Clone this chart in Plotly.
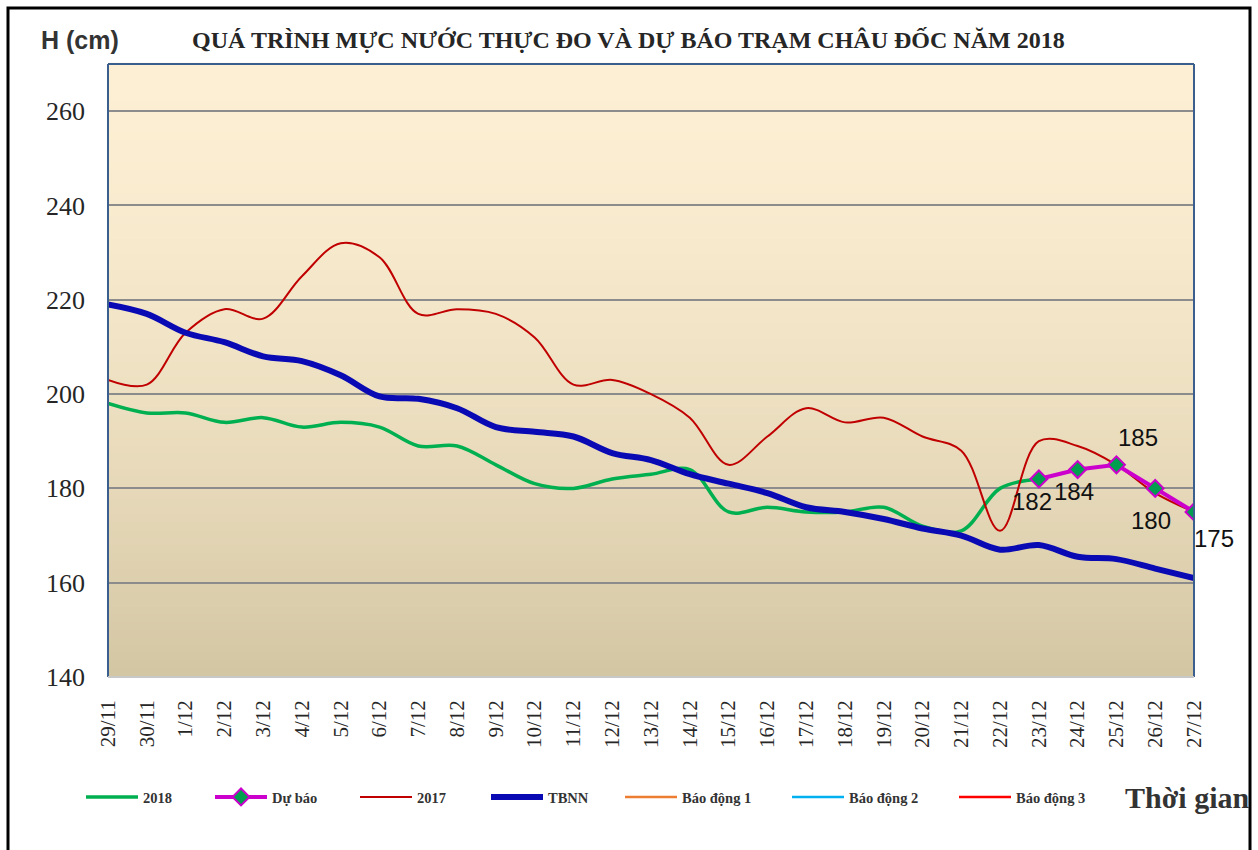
import plotly.graph_objects as go

# ---------------- data ----------------
dates = ["29/11", "30/11", "1/12", "2/12", "3/12", "4/12", "5/12", "6/12", "7/12",
         "8/12", "9/12", "10/12", "11/12", "12/12", "13/12", "14/12", "15/12", "16/12",
         "17/12", "18/12", "19/12", "20/12", "21/12", "22/12", "23/12", "24/12",
         "25/12", "26/12", "27/12"]

h_2018 = [198, 196, 196, 194, 195, 193, 194, 193, 189, 189, 185, 181, 180, 182, 183,
          184, 175, 176, 175, 175, 176, 172, 171, 180, 182]

forecast_dates = ["23/12", "24/12", "25/12", "26/12", "27/12"]
h_forecast = [182, 184, 185, 180, 175]

h_2017 = [203, 202, 213, 218, 216, 225, 232, 229, 217, 218, 217, 212, 202, 203, 200,
          195, 185, 191, 197, 194, 195, 191, 188, 171, 190, 189, 185, 179, 175]

h_tbnn = [219, 217, 213, 211, 208, 207, 204, 199.5, 199, 197, 193, 192, 191, 187.5, 186,
          183, 181, 179, 176, 175, 173.5, 171.5, 170, 167, 168, 165.5, 165, 163, 161]

# alarm levels for Chau Doc (cm), above the visible range
bao_dong_1 = [350] * len(dates)
bao_dong_2 = [400] * len(dates)
bao_dong_3 = [450] * len(dates)

y_ticks = [140, 160, 180, 200, 220, 240, 260]

# label offsets (px) for forecast data labels
label_shift = [(-7, -23), (-4, -22), (22, 27), (-4, -32), (20, -27)]

# ---------------- layout geometry ----------------
W, H = 1258, 850
ML, MR, MT, MB = 108, 64, 64, 173
PW, PH = W - ML - MR, H - MT - MB

def px_x(px):
    return (px - ML) / PW

def px_y(py):
    return (H - MB - py) / PH

SERIF = "Liberation Serif"
SANS = "Liberation Sans"

fig = go.Figure()

legend_names = ["legend", "legend2", "legend3", "legend4", "legend5", "legend6", "legend7"]

fig.add_trace(go.Scatter(
    x=dates[:len(h_2018)], y=h_2018, name="2018", mode="lines",
    line=dict(color="#00B050", width=3.5, shape="spline", smoothing=1),
    legend="legend"))

fig.add_trace(go.Scatter(
    x=dates, y=h_2017, name="2017", mode="lines",
    line=dict(color="#C00000", width=2, shape="spline", smoothing=1),
    legend="legend3"))

fig.add_trace(go.Scatter(
    x=dates, y=h_tbnn, name="TBNN", mode="lines",
    line=dict(color="#0A0AB4", width=6, shape="spline", smoothing=1),
    legend="legend4"))

fig.add_trace(go.Scatter(
    x=forecast_dates, y=h_forecast, name="Dự báo", mode="lines+markers",
    line=dict(color="#CC00CC", width=4),
    marker=dict(symbol="diamond", size=13, color="#009E4F",
                line=dict(color="#CC00CC", width=2)),
    legend="legend2"))

for nm, vals, col, lg in [("Báo động 1", bao_dong_1, "#ED7D31", "legend5"),
                          ("Báo động 2", bao_dong_2, "#00B0F0", "legend6"),
                          ("Báo động 3", bao_dong_3, "#FF0000", "legend7")]:
    fig.add_trace(go.Scatter(x=dates, y=vals, name=nm, mode="lines",
                             line=dict(color=col, width=2.5), legend=lg))

# data labels for forecast
for d, v, (dx, dy) in zip(forecast_dates, h_forecast, label_shift):
    fig.add_annotation(x=d, y=v, text=str(v), showarrow=False, xshift=dx, yshift=dy,
                       font=dict(family=SANS, size=24, color="#111111"))

# ---------------- background gradient ----------------
shapes = []
top = (253, 239, 211)
bot = (211, 198, 163)
N = 80
for i in range(N):
    t = (i + 0.5) / N  # 0 top -> 1 bottom
    tt = t ** 1.6
    c = tuple(int(round(top[k] + (bot[k] - top[k]) * tt)) for k in range(3))
    shapes.append(dict(type="rect", xref="paper", yref="paper", x0=0, x1=1,
                       y0=1 - (i + 1) / N, y1=1 - i / N + 0.002,
                       fillcolor="rgb(%d,%d,%d)" % c, line=dict(width=0), layer="below"))

# plot border
shapes.append(dict(type="line", xref="paper", yref="paper", x0=0, x1=0, y0=0, y1=1,
                   line=dict(color="#3A5F8F", width=2)))
shapes.append(dict(type="line", xref="paper", yref="paper", x0=1, x1=1, y0=0, y1=1,
                   line=dict(color="#3A5F8F", width=2)))
shapes.append(dict(type="line", xref="paper", yref="paper", x0=0, x1=1, y0=1, y1=1,
                   line=dict(color="#3A5F8F", width=2)))
shapes.append(dict(type="line", xref="paper", yref="paper", x0=0, x1=1, y0=0, y1=0,
                   line=dict(color="#C8C8C8", width=2)))
# outer frame
shapes.append(dict(type="rect", xref="paper", yref="paper",
                   x0=px_x(8), x1=px_x(1250), y0=px_y(870), y1=px_y(8),
                   line=dict(color="#000000", width=3), fillcolor="rgba(0,0,0,0)"))

# ---------------- text ----------------
annotations = [
    dict(text="<b>H (cm)</b>", x=px_x(80), y=px_y(40), xref="paper", yref="paper",
         xanchor="center", yanchor="middle",
         showarrow=False, font=dict(family=SANS, size=25, color="#333333")),
    dict(text="<b>QUÁ TRÌNH MỰC NƯỚC THỰC ĐO VÀ DỰ BÁO TRẠM CHÂU ĐỐC NĂM 2018</b>",
         x=px_x(628), y=px_y(40), xref="paper", yref="paper", showarrow=False,
         xanchor="center", yanchor="middle",
         font=dict(family=SERIF, size=24, color="#262626")),
    dict(text="<b>Thời gian</b>", x=px_x(1187), y=px_y(797), xref="paper", yref="paper",
         xanchor="center", yanchor="middle",
         showarrow=False, font=dict(family=SERIF, size=30, color="#333333")),
]
for a in annotations:
    fig.add_annotation(**a)

# ---------------- legends ----------------
legend_px = [87, 216, 361, 492, 626, 793, 960]
leg_cfg = {}
for lg, lx in zip(legend_names, legend_px):
    leg_cfg[lg] = dict(x=px_x(lx - 6), y=px_y(797), xanchor="left", yanchor="middle",
                       orientation="h", bgcolor="rgba(0,0,0,0)",
                       font=dict(family=SERIF, size=14.5, color="#333333",
                                 weight="bold"),
                       itemwidth=52, tracegroupgap=0)

fig.update_layout(
    width=W, height=H,
    margin=dict(l=ML, r=MR, t=MT, b=MB),
    paper_bgcolor="white",
    plot_bgcolor="rgba(0,0,0,0)",
    showlegend=True,
    shapes=shapes,
    xaxis=dict(type="category", categoryorder="array", categoryarray=dates,
               range=[0, len(dates) - 1], tickangle=-90, showgrid=False,
               tickfont=dict(family=SERIF, size=21, color="#262626"),
               ticks="", ticklabelstandoff=18, showline=False, zeroline=False),
    yaxis=dict(range=[140, 270], tickvals=y_ticks, showgrid=True,
               gridcolor="#8C8C8C", gridwidth=2, zeroline=False, showline=False,
               tickfont=dict(family=SERIF, size=26, color="#262626"),
               ticks="", ticklabelstandoff=22),
    **leg_cfg,
)

fig.write_html("out.html", post_script="document.body.style.margin='0';",
               config={"displayModeBar": False})
